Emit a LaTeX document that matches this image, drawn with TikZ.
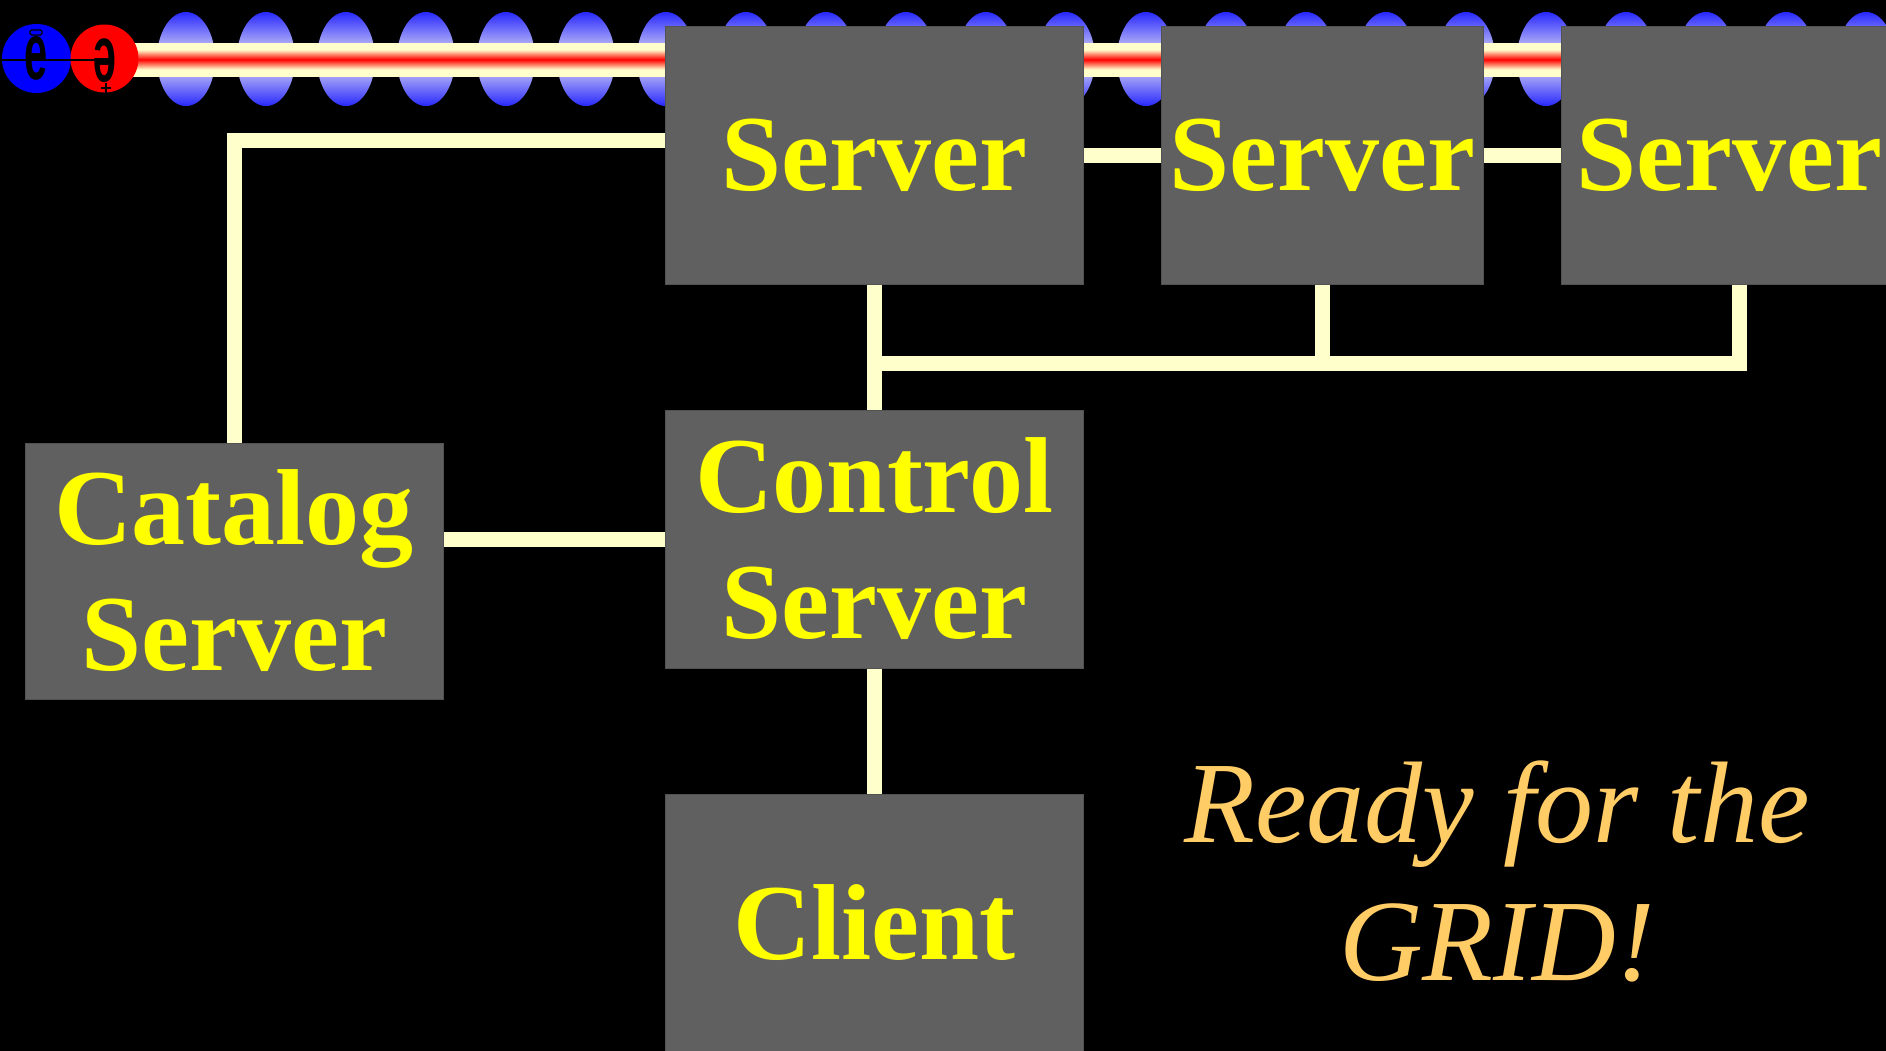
\documentclass[tikz,border=0pt]{standalone}
\usepackage{fontspec}
\setmainfont{Liberation Serif}
\newfontfamily\logofont{Liberation Sans}

\definecolor{boxgray}{RGB}{96,96,96}
\definecolor{wirecream}{RGB}{255,255,204}
\definecolor{labelyellow}{RGB}{255,255,0}
\definecolor{readygold}{RGB}{255,204,102}
\definecolor{bunchblue}{RGB}{40,40,255}
\definecolor{bunchlight}{RGB}{236,234,242}
\definecolor{beamcream}{RGB}{255,255,204}
\definecolor{beamred}{RGB}{255,0,0}
\definecolor{electronblue}{RGB}{0,0,255}
\definecolor{positronred}{RGB}{255,0,0}

% particle bunch: blue at the rim, pale in the middle
\pgfdeclareverticalshading{bunch}{100bp}{color(0bp)=(bunchblue); color(25bp)=(bunchblue); color(50bp)=(bunchlight); color(75bp)=(bunchblue); color(100bp)=(bunchblue)}
% beam pipe: cream edges, thin red core
\pgfdeclareverticalshading{beamcore}{100bp}{color(0bp)=(beamcream); color(25bp)=(beamcream); color(35bp)=(beamcream); color(50bp)=(beamred); color(65bp)=(beamcream); color(75bp)=(beamcream); color(100bp)=(beamcream)}

\begin{document}
\begin{tikzpicture}[x=1pt,y=-1pt,
  unit/.style={draw=boxgray!85!black, line width=1pt, fill=boxgray,
    text=labelyellow, font=\bfseries\fontsize{108}{126}\selectfont,
    align=center, inner sep=0pt, minimum width=418pt, minimum height=258pt},
  wire/.style={draw=wirecream, line width=15pt},
  particle/.style={font=\logofont\bfseries\fontsize{80}{80}\selectfont,
    xscale=0.52, inner sep=0pt, text=black}]

\useasboundingbox (0,0) rectangle (1886,1050);
\fill[black] (-6,-6) rectangle (1892,1056);
\clip (-6,-6) rectangle (1892,1056);

% beam line with bunches
\foreach \k in {0,...,21}
  \shade[shading=bunch] (186+80*\k,59) ellipse [x radius=29pt, y radius=47pt];
\shade[shading=beamcore] (100,43) rectangle (1892,76);

% e- e+ emblem
\fill[electronblue] (36.5,58.5) circle [radius=34.5pt];
\fill[positronred] (104.5,58.5) circle [radius=34pt];
\draw[black, line width=2pt] (2,60) -- (100,60);
\node[particle] (eminus) at (36,58) {e};
\node[particle, rotate=180] (eplus) at (105,61) {e};
\draw[black, line width=1.2pt, rounded corners=1.5pt] (30,30) rectangle (42,35);
\draw[black, line width=1.5pt] (101,88) -- (111,88) (106,83) -- (106,93);

% boxes
\node[unit] (s1) at (874,155) {Server};
\node[unit, minimum width=322pt] (s2) at (1322,155) {Server};
\node[unit, minimum width=336pt] (s3) at (1729,155) {Server};
\node[unit] (ctrl) at (874,539) {Control\\Server};
\node[unit, minimum height=256pt] (cat) at (234,571) {Catalog\\Server};
\node[unit] (client) at (874,923) {Client};

\node[text=readygold, font=\itshape\fontsize{116}{138}\selectfont, align=center]
  (ready) at (1497,871) {Ready for the\\GRID!};

% connections
\coordinate (bus) at (874,363);
\draw[wire] ([yshift=15pt]s1.west) -| (cat.north);
\draw[wire] (s1.east) -- (s2.west);
\draw[wire] (s2.east) -- (s3.west);
\draw[wire] (s1.south) -- (ctrl.north);
\draw[wire] (s2.south) -- (s2.south |- bus);
\draw[wire] ([xshift=10pt]s3.south) |- (bus);
\draw[wire] (cat.east |- ctrl.west) -- (ctrl.west);
\draw[wire] (ctrl.south) -- (client.north);
\end{tikzpicture}
\end{document}
